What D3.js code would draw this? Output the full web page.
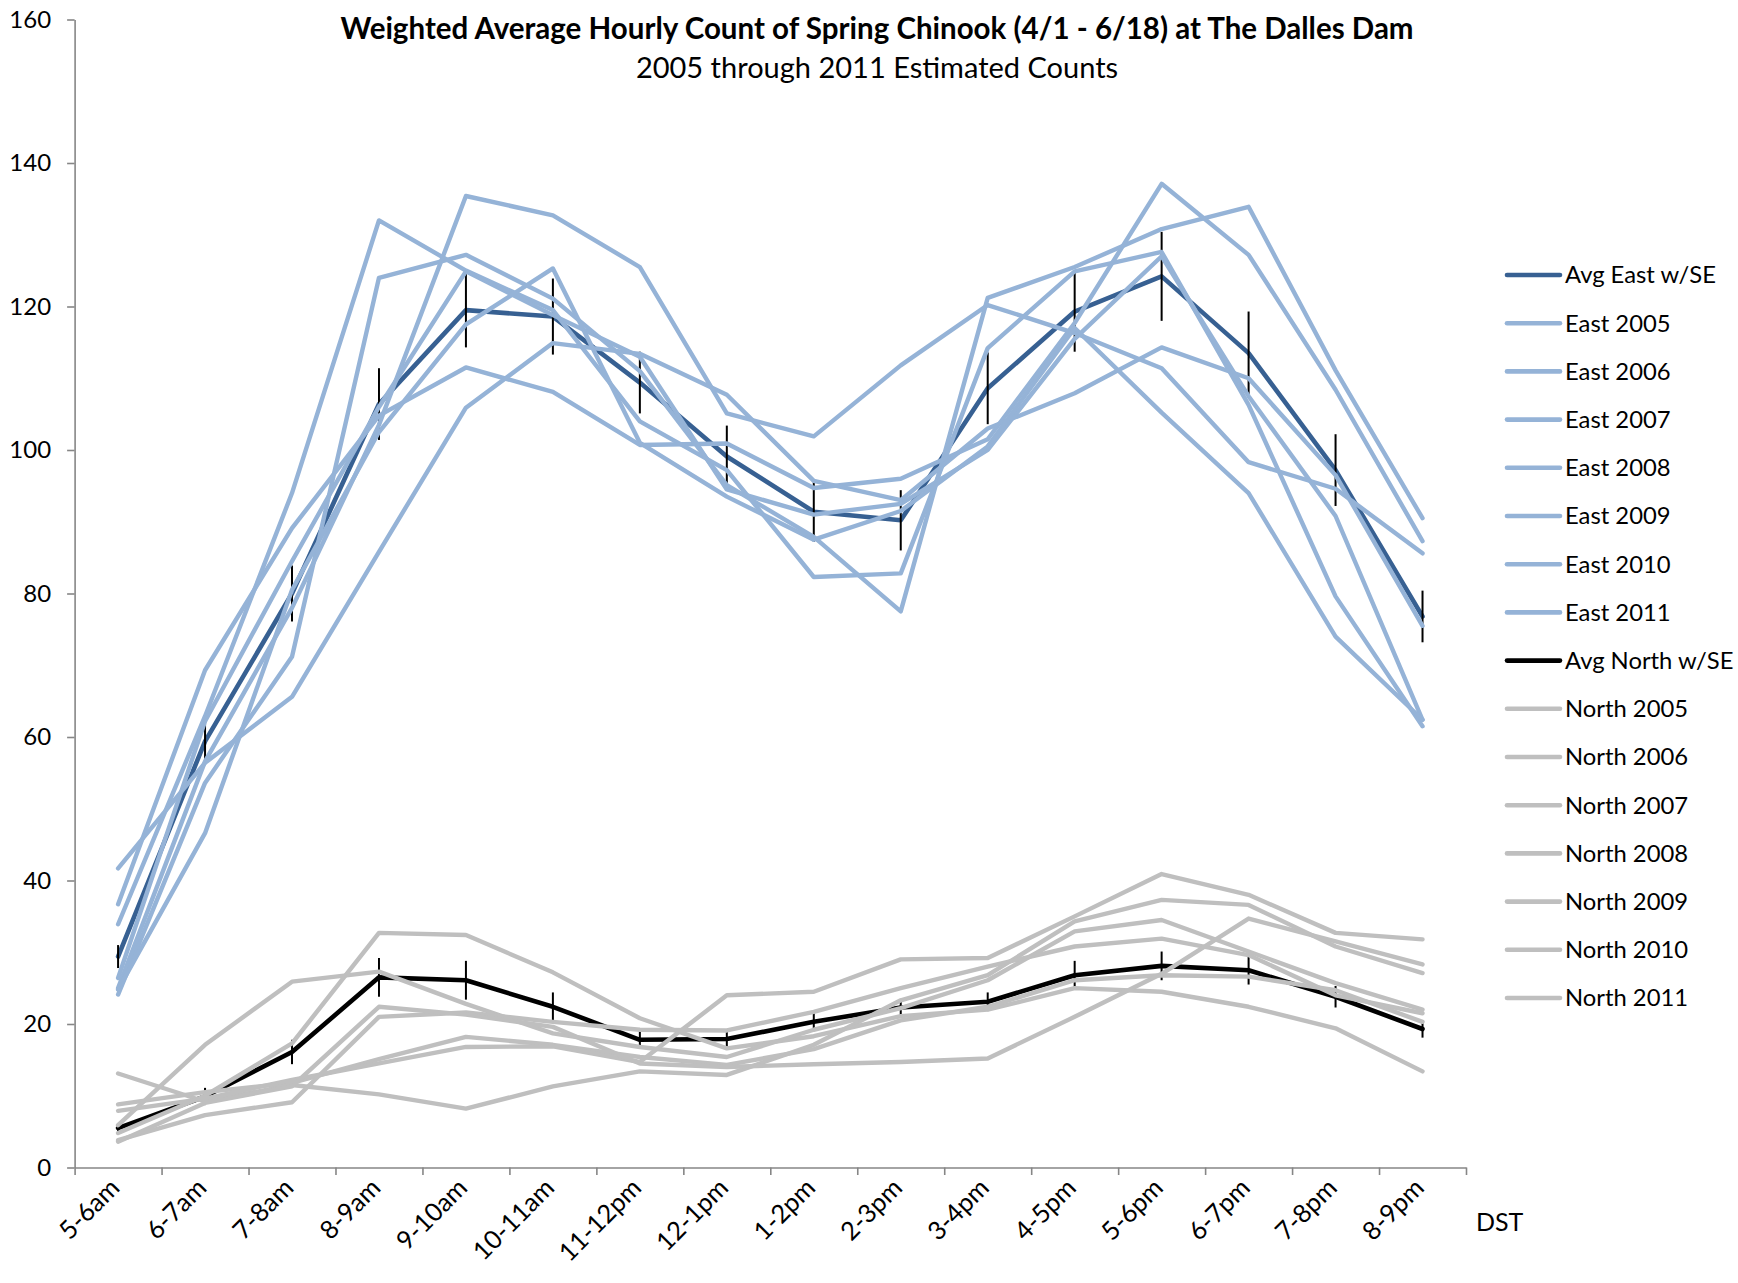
<!doctype html>
<html lang="en">
<head>
<meta charset="utf-8" />
<title>Weighted Average Hourly Count of Spring Chinook</title>
<script src="https://cdn.jsdelivr.net/npm/d3@7"></script>
<style>
  body { margin: 0; background: #fff; }
  text { font-family: Lato, "Open Sans", sans-serif; fill: #000; }
</style>
</head>
<body>
<script>
// hour slots (x categories)
var hours = ["5-6am", "6-7am", "7-8am", "8-9am", "9-10am", "10-11am", "11-12pm", "12-1pm",
             "1-2pm", "2-3pm", "3-4pm", "4-5pm", "5-6pm", "6-7pm", "7-8pm", "8-9pm"];
var yTicks = [0, 20, 40, 60, 80, 100, 120, 140, 160];

// east ladder
var avgEast = [29.4, 59.4, 80.0, 106.4, 119.5, 118.6, 109.4, 99.1, 91.4, 90.2, 108.6, 119.3, 124.2, 113.5, 97.2, 76.8];
var seEast  = [1.6, 2.5, 3.9, 5.0, 5.2, 5.3, 4.3, 4.3, 4.2, 4.2, 5.0, 5.6, 6.2, 5.8, 5.0, 3.6];
var east2005 = [24.1, 53.6, 71.2, 124.0, 127.2, 121.1, 111.0, 95.1, 87.9, 77.5, 121.2, 125.5, 130.8, 133.9, 111.1, 90.5];
var east2006 = [33.9, 62.9, 94.0, 132.0, 125.0, 119.5, 104.0, 97.2, 82.3, 82.8, 114.2, 124.9, 127.6, 106.3, 79.6, 61.5];
var east2007 = [36.7, 69.3, 89.1, 104.8, 111.5, 108.1, 100.7, 100.9, 94.7, 96.0, 101.5, 117.7, 137.1, 127.2, 108.4, 87.3];
var east2008 = [41.7, 56.4, 65.6, 85.8, 105.9, 114.9, 113.4, 107.7, 95.7, 93.0, 103.0, 107.9, 114.3, 110.0, 96.5, 75.5];
var east2009 = [26.4, 62.2, 84.5, 106.0, 124.9, 118.8, 113.0, 94.5, 91.0, 92.5, 100.0, 115.5, 127.0, 107.5, 90.8, 62.4];
var east2010 = [25.0, 56.6, 78.0, 103.5, 135.4, 132.7, 125.5, 105.1, 101.9, 111.8, 120.2, 116.3, 111.4, 98.3, 94.6, 85.6];
var east2011 = [24.8, 46.6, 80.5, 102.5, 117.5, 125.3, 101.0, 93.5, 87.5, 91.5, 100.5, 117.0, 105.2, 94.0, 74.0, 62.4];

// north ladder
var avgNorth = [5.5, 9.9, 16.1, 26.5, 26.1, 22.4, 17.8, 17.9, 20.3, 22.3, 23.1, 26.8, 28.1, 27.5, 23.8, 19.3];
var seNorth  = [0.6, 1.2, 1.7, 2.7, 2.7, 2.0, 1.2, 1.3, 1.3, 1.2, 1.3, 2.0, 2.0, 2.0, 1.5, 1.2];
var north2005 = [13.1, 9.2, 11.5, 10.2, 8.2, 11.3, 13.4, 12.9, 17.1, 23.3, 26.8, 34.3, 37.3, 36.6, 30.8, 27.1];
var north2006 = [4.8, 10.0, 17.3, 32.7, 32.4, 27.2, 20.8, 16.6, 18.3, 21.1, 22.0, 25.0, 24.5, 22.4, 19.4, 13.4];
var north2007 = [5.9, 17.1, 25.9, 27.3, 22.8, 18.7, 16.8, 15.4, 19.2, 22.2, 26.1, 32.9, 34.5, 30.1, 25.7, 22.0];
var north2008 = [8.8, 10.5, 11.8, 15.1, 18.2, 17.1, 15.4, 14.3, 16.5, 20.5, 22.4, 26.1, 26.8, 26.6, 24.7, 20.3];
var north2009 = [7.9, 9.6, 12.2, 14.5, 16.8, 16.9, 14.7, 24.0, 24.5, 29.0, 29.2, 35.0, 40.9, 38.0, 32.7, 31.8];
var north2010 = [3.8, 7.3, 9.1, 21.0, 21.6, 20.3, 19.2, 19.1, 21.7, 25.0, 28.0, 30.8, 31.9, 29.6, 24.0, 21.5];
var north2011 = [3.6, 9.0, 11.3, 22.4, 21.3, 19.6, 14.5, 14.0, 14.4, 14.7, 15.2, 21.0, 27.0, 34.7, 31.5, 28.3];

var w = 1738, h = 1283;
var darkBlue = "#376092", lightBlue = "#95B3D7", gray = "#BFBFBF", axisGray = "#868686";

// drawing order follows the legend order
var series = [
  {name: "Avg East w/SE", values: avgEast, se: seEast, color: darkBlue, width: 4.6},
  {name: "East 2005", values: east2005, color: lightBlue, width: 4.4},
  {name: "East 2006", values: east2006, color: lightBlue, width: 4.4},
  {name: "East 2007", values: east2007, color: lightBlue, width: 4.4},
  {name: "East 2008", values: east2008, color: lightBlue, width: 4.4},
  {name: "East 2009", values: east2009, color: lightBlue, width: 4.4},
  {name: "East 2010", values: east2010, color: lightBlue, width: 4.4},
  {name: "East 2011", values: east2011, color: lightBlue, width: 4.4},
  {name: "Avg North w/SE", values: avgNorth, se: seNorth, color: "#000", width: 4.6},
  {name: "North 2005", values: north2005, color: gray, width: 4.4},
  {name: "North 2006", values: north2006, color: gray, width: 4.4},
  {name: "North 2007", values: north2007, color: gray, width: 4.4},
  {name: "North 2008", values: north2008, color: gray, width: 4.4},
  {name: "North 2009", values: north2009, color: gray, width: 4.4},
  {name: "North 2010", values: north2010, color: gray, width: 4.4},
  {name: "North 2011", values: north2011, color: gray, width: 4.4}
];

var plotLeft = 74.6, plotRight = 1466, plotTop = 19.5, plotBottom = 1167.5;

var svg = d3.select("body").append("svg")
  .attr("width", w)
  .attr("height", h);

svg.append("rect").attr("width", w).attr("height", h).attr("fill", "#fff");

var x = d3.scaleBand().domain(hours).range([plotLeft, plotRight]).paddingInner(0).paddingOuter(0);
var xEdge = d3.scaleLinear().domain([0, hours.length]).range([plotLeft, plotRight]);
var y = d3.scaleLinear().domain([0, 160]).range([plotBottom, plotTop]);
var cx = function(i) { return x(hours[i]) + x.bandwidth() / 2; };

// y axis
var yAxis = svg.append("g")
  .attr("transform", "translate(" + plotLeft + ",0)")
  .call(d3.axisLeft(y).tickValues(yTicks).tickSize(7.5).tickPadding(16).tickSizeOuter(0));
yAxis.selectAll("text").attr("font-size", "24px").style("font-family", "Lato");

// x axis: ticks sit on the slot edges
var xAxis = svg.append("g")
  .attr("transform", "translate(0," + plotBottom + ")")
  .call(d3.axisBottom(xEdge).tickValues(d3.range(hours.length + 1)).tickSize(7.5).tickFormat("").tickSizeOuter(0));

svg.selectAll(".domain, .tick line").attr("stroke", axisGray).attr("stroke-width", 1.6);

svg.selectAll(".hour-label")
  .data(hours)
  .enter()
  .append("text")
  .attr("class", "hour-label")
  .attr("text-anchor", "end")
  .attr("font-size", "25.5px")
  .attr("transform", function(d, i) {
    return "translate(" + (cx(i) + 3) + "," + (plotBottom + 22) + ") rotate(-45)";
  })
  .text(function(d) { return d; });

svg.append("text")
  .attr("x", 1476)
  .attr("y", 1231)
  .attr("font-size", "25px")
  .text("DST");

// lines
var line = d3.line()
  .x(function(d, i) { return cx(i); })
  .y(function(d) { return y(d); });

series.forEach(function(s) {
  svg.append("path")
    .datum(s.values)
    .attr("fill", "none")
    .attr("stroke", s.color)
    .attr("stroke-width", s.width)
    .attr("stroke-linejoin", "round")
    .attr("stroke-linecap", "round")
    .attr("d", line);

  if (s.se) {
    svg.append("g").selectAll("line")
      .data(s.values)
      .enter()
      .append("line")
      .attr("x1", function(d, i) { return cx(i); })
      .attr("x2", function(d, i) { return cx(i); })
      .attr("y1", function(d, i) { return y(d - s.se[i]); })
      .attr("y2", function(d, i) { return y(d + s.se[i]); })
      .attr("stroke", "#000")
      .attr("stroke-width", 2);
  }
});

// legend
var legend = svg.append("g").attr("transform", "translate(1507,275)");
var item = legend.selectAll("g")
  .data(series)
  .enter()
  .append("g")
  .attr("transform", function(d, i) { return "translate(0," + (i * 48.2) + ")"; });

item.append("line")
  .attr("x1", 0).attr("x2", 53)
  .attr("stroke", function(d) { return d.color; })
  .attr("stroke-width", 4.6)
  .attr("stroke-linecap", "round");

item.append("text")
  .attr("x", 58)
  .attr("dy", "0.35em")
  .attr("font-size", "23.8px")
  .text(function(d) { return d.name; });

// titles
svg.append("text")
  .attr("x", 877)
  .attr("y", 39)
  .attr("text-anchor", "middle")
  .attr("font-size", "29.5px")
  .attr("font-weight", "bold")
  .text("Weighted Average Hourly Count of Spring Chinook (4/1 - 6/18) at The Dalles Dam");

svg.append("text")
  .attr("x", 877)
  .attr("y", 78)
  .attr("text-anchor", "middle")
  .attr("font-size", "29px")
  .text("2005 through 2011 Estimated Counts");
</script>
</body>
</html>
